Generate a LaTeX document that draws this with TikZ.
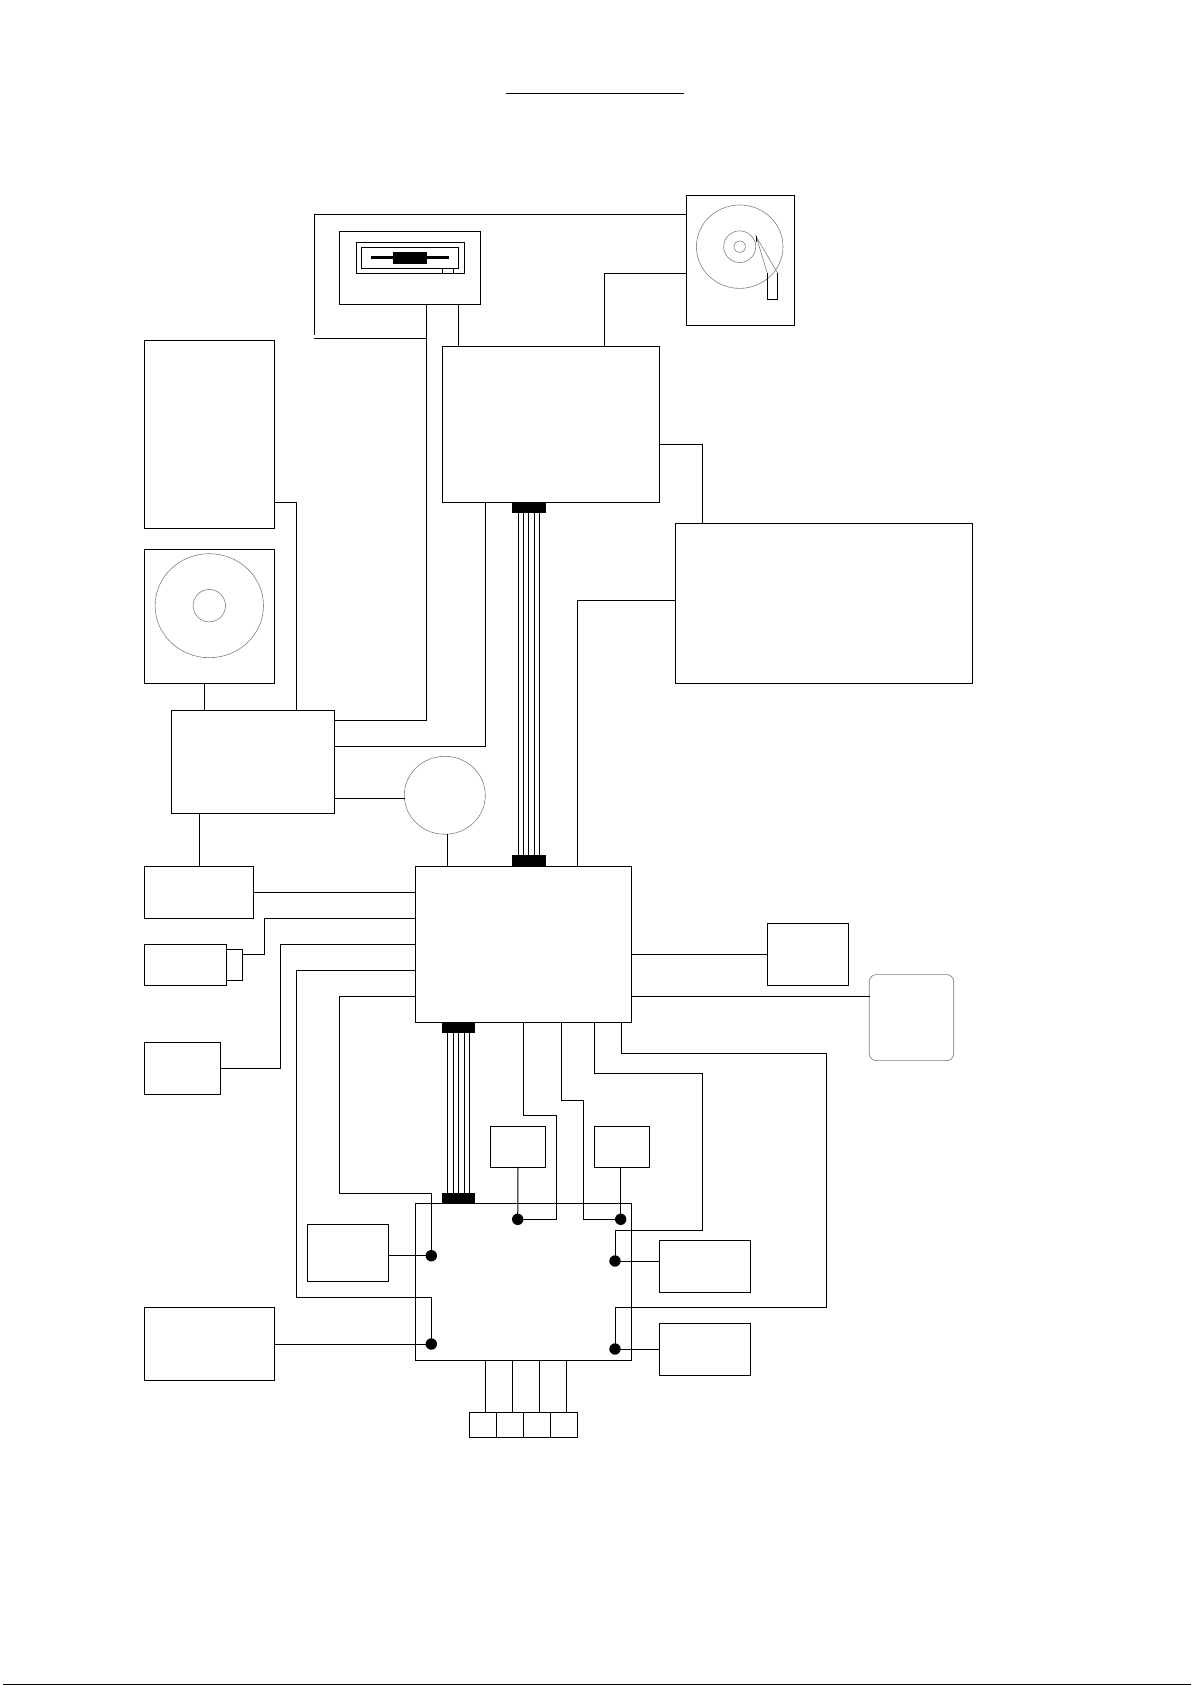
\documentclass[tikz,border=0pt]{standalone}
\usepackage{tikz}
\usetikzlibrary{shapes.geometric}
\tikzstyle{unit} = [rectangle, draw=black, line width=1pt, inner sep=0pt, outer sep=0pt]
\tikzstyle{solid block} = [rectangle, fill=black, inner sep=0pt, outer sep=0pt]
\tikzstyle{disc} = [ellipse, draw=black!50, line width=0.6pt, inner sep=0pt, outer sep=0pt]
\tikzstyle{joint} = [circle, fill=black, inner sep=0pt, outer sep=0pt, minimum size=11.4pt]
\tikzstyle{wire} = [line width=1pt, line cap=rect]
\begin{document}
\begin{tikzpicture}[x=1pt, y=-1pt]
\useasboundingbox (0,0) rectangle (1191,1685);

\coordinate (titleL) at (506.3,93.3);
\coordinate (titleR) at (683.7,93.3);
\draw [wire] (titleL) -- (titleR);

\node (speaker) [unit, minimum width=130, minimum height=188] at (209.3,434.3) {};
\node (cdrom) [unit, minimum width=130, minimum height=134] at (209.3,616.3) {};
\node (cdouter) [disc, minimum width=108.4, minimum height=104] at (209.3,605.7) {};
\node (cdhub) [disc, minimum width=32.4, minimum height=32.4] at (209.3,605.7) {};
\node (sound) [unit, minimum width=163, minimum height=103] at (252.8,761.8) {};
\node (video) [unit, minimum width=109, minimum height=52] at (198.8,892.3) {};
\node (camera) [unit, minimum width=82.4, minimum height=41] at (185.5,964.8) {};
\node (lens) [unit, minimum width=16, minimum height=31] at (234.7,964.8) {};
\node (mouse) [unit, minimum width=76.4, minimum height=52] at (182.5,1068.3) {};
\node (panel) [unit, minimum width=130, minimum height=73] at (209.3,1343.8) {};
\node (keys) [unit, minimum width=81.4, minimum height=57] at (348,1252.8) {};
\node (clock) [disc, minimum width=81, minimum height=78] at (444.8,795.3) {};

\node (floppy) [unit, minimum width=141, minimum height=73] at (409.8,267.8) {};
\node (slot) [unit, minimum width=108.4, minimum height=31] at (410.5,257.8) {};
\node (tray) [unit, minimum width=97.4, minimum height=21] at (410,257.8) {};
\node (latch) [solid block, minimum width=78, minimum height=3] at (410,257.6) {};
\node (shutter) [solid block, minimum width=34, minimum height=12] at (410,258) {};
\draw [wire, line cap=butt] (tray.south -| 442.3,0) -- (slot.south -| 442.3,0);
\draw [wire, line cap=butt] (tray.south -| 453.3,0) -- (slot.south -| 453.3,0);

\node (hdd) [unit, minimum width=108, minimum height=130] at (740.3,260.3) {};
\node (platter) [disc, minimum width=86.6, minimum height=83.4] at (739.7,246.7) {};
\node (spindle) [disc, minimum width=32, minimum height=31.6] at (739.7,246.7) {};
\node (hole) [disc, minimum width=11.4, minimum height=11.4] at (739.7,246.7) {};
\coordinate (armtip) at (756.3,236.7);
\coordinate (armL) at (767.3,273.3);
\coordinate (armR) at (777.7,273.3);
\draw [draw=black!50, line width=0.6pt] (armL) -- (armtip) -- (armR);
\draw [wire, line cap=butt] (756.3,236) -- (756.3,241.7);
\draw [wire] (armL) -- (767.3,299.3) -- (777.7,299.3) -- (armR);

\node (upper) [unit, minimum width=217, minimum height=156] at (550.8,424.3) {};
\node (display) [unit, minimum width=297.4, minimum height=160] at (824,603.3) {};
\node (main) [unit, minimum width=216, minimum height=156] at (523.3,944.3) {};
\node (lower) [unit, minimum width=216.2, minimum height=157] at (523.4,1281.8) {};
\node (printer) [unit, minimum width=81.4, minimum height=62] at (808,954.3) {};
\node (modem) [rectangle, rounded corners=7pt, draw=black!50, line width=0.7pt, inner sep=0pt, outer sep=0pt, minimum width=84.4, minimum height=86] at (911.5,1017.6) {};
\node (smallA) [unit, minimum width=55.4, minimum height=41.3] at (518,1146.7) {};
\node (smallB) [unit, minimum width=54.8, minimum height=41.3] at (621.7,1146.7) {};
\node (sideA) [unit, minimum width=91.4, minimum height=52] at (705,1266.3) {};
\node (sideB) [unit, minimum width=91.4, minimum height=52] at (705,1349.3) {};
\foreach \n/\x in {1/482.8, 2/509.8, 3/536.8, 4/563.8}
  \node (port\n) [unit, minimum width=27, minimum height=25] at (\x,1424.8) {};

\node (headA) [solid block, minimum width=34, minimum height=10.4] at (529,507.5) {};
\node (headB) [solid block, minimum width=34, minimum height=11.3] at (529,860.6) {};
\node (headC) [solid block, minimum width=33, minimum height=10.4] at (458.5,1027.5) {};
\node (headD) [solid block, minimum width=33, minimum height=10] at (458.5,1198.3) {};
\foreach \x in {518.3, 523.3, 528.3, 534, 539.3}
  \draw [wire, line cap=butt] (headA.south -| \x,0) -- (headB.north -| \x,0);
\foreach \x in {447.3, 453.3, 458.3, 464.3, 469.3}
  \draw [wire, line cap=butt] (headC.south -| \x,0) -- (headD.north -| \x,0);

\node (jointA) [joint] at (431.3,1255.7) {};
\node (jointB) [joint] at (431.3,1344) {};
\node (jointC) [joint] at (517.7,1219.3) {};
\node (jointD) [joint] at (620.7,1219.3) {};
\node (jointE) [joint] at (615,1261) {};
\node (jointF) [joint] at (615,1349) {};

\coordinate (loopend) at (685,214.3);
\coordinate (loopturn) at (314.7,334);
\coordinate (loopstart) at (314,338.3);
\draw [wire] (loopend) -| (loopturn);
\draw [wire] (loopstart) -- (loopstart -| 426.3,0);
\draw [wire] (floppy.south -| 426.3,0) |- (sound.east |- 0,720.3);
\draw [wire] (floppy.south -| 458.3,0) -- (upper.north -| 458.3,0);
\draw [wire] (hdd.west |- 0,273.3) -| (upper.north -| 604.3,0);
\draw [wire] (upper.east |- 0,444.3) -| (display.north -| 702.3,0);
\draw [wire] (speaker.east |- 0,502.3) -| (sound.north -| 296.3,0);
\draw [wire] (cdrom.south -| 204.3,0) -- (sound.north -| 204.3,0);
\draw [wire] (upper.south -| 485.3,0) |- (sound.east |- 0,746.3);
\draw [wire] (sound.east |- 0,798.3) -- (clock.west |- 0,798.3);
\draw [wire] (clock.south -| 447.3,0) -- (main.north -| 447.3,0);
\draw [wire] (sound.south -| 199.3,0) -- (video.north -| 199.3,0);
\draw [wire] (video.east) -- (main.west |- video.east);
\draw [wire] (main.west |- 0,918.3) -| (264.3,954.3) -- (lens.east |- 0,954.3);
\draw [wire] (main.west |- 0,944.3) -| (280.3,1068.3) -- (mouse.east);
\draw [wire] (main.west |- 0,970.3) -| (296.3,1297.3) -| (jointB);
\draw [wire] (main.west |- 0,996) -| (339.3,1193.3) -| (jointA);
\draw [wire] (display.west |- 0,600.3) -| (main.north -| 577.3,0);
\draw [wire] (main.east |- 0,954.3) -- (printer.west |- 0,954.3);
\draw [wire] (main.east |- 0,996.3) -- (modem.west |- 0,996.3);
\draw [wire] (main.south -| 523.3,0) |- (556.3,1115.3) |- (jointC);
\draw [wire] (main.south -| 561.3,0) |- (583.3,1100.3) |- (jointD);
\draw [wire] (main.south -| 594.3,0) |- (702.3,1073.3) |- (615,1230.3) -- (jointE);
\draw [wire] (main.south -| 621.3,0) |- (826.3,1053.3) |- (615,1307.3) -- (jointF);
\draw [wire] (smallA.south) -- (jointC);
\draw [wire] (jointD |- smallB.south) -- (jointD);
\draw [wire] (keys.east |- jointA) -- (jointA);
\draw [wire] (panel.east |- jointB) -- (jointB);
\draw [wire] (jointE) -- (sideA.west |- jointE);
\draw [wire] (jointF) -- (sideB.west |- jointF);
\foreach \x in {485.3, 512.3, 539.3, 566.3}
  \draw [wire] (lower.south -| \x,0) -- (port1.north -| \x,0);

\coordinate (edgeL) at (3,1684.5);
\coordinate (edgeR) at (1191,1684.5);
\draw [wire, line cap=butt] (edgeL) -- (edgeR);

\end{tikzpicture}
\end{document}
